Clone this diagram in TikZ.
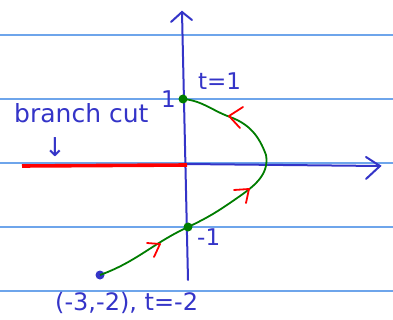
\documentclass[tikz,border=0pt]{standalone}
\usepackage{fontspec}
\setmainfont{DejaVu Sans}
\definecolor{penblue}{RGB}{52,52,200}
\definecolor{ruleblue}{RGB}{110,165,235}
\definecolor{pengreen}{RGB}{0,125,0}
\begin{document}
\begin{tikzpicture}[x=1pt,y=-1pt,
  rule/.style={ruleblue,line width=1.3},
  axis/.style={penblue,line width=2,line cap=round},
  lbl/.style={penblue,font=\fontsize{23}{25}\selectfont,inner sep=0},
  chev/.style={red,line width=1.8,line cap=round,line join=round},
  dot/.style={circle,fill,inner sep=0,minimum size=9}]
\useasboundingbox (0,0) rectangle (393,320);
\fill[white] (0,0) rectangle (393,320);
\foreach \y in {35,99,163,227,291} \draw[rule] (0,\y) -- (393,\y);
% axes
\coordinate (ytop) at (182,12);
\coordinate (ybot) at (188,280);
\coordinate (xl) at (186,164);
\coordinate (xr) at (380,166);
\draw[axis] (ybot) -- (ytop);
\draw[axis] (171,22) -- (ytop) -- (192,20);
\draw[axis] (xl) -- (xr);
\draw[axis] (366,157) -- (xr) -- (366,179);
% branch cut
\coordinate (bcl) at (22,166);
\coordinate (bcr) at (187,165);
\draw[red,line width=3.6] (bcl) -- (bcr);
% curve
\node[dot,pengreen] (p1) at (183,99) {};
\node[dot,pengreen] (pm) at (188,227) {};
\node[dot,penblue] (p0) at (100,275) {};
\draw[pengreen,line width=1.8] (p1.center) to[out=-5,in=160] (230,117) to[out=-20,in=110] (266,155) to[out=-80,in=35] (240,196) to[out=-145,in=25] (pm.center)
  to[out=-155,in=20] (p0.center);
% chevrons
\draw[chev] (243,107) -- (229,116) -- (240,128);
\draw[chev] (234,190) -- (249,189) -- (246,203);
\draw[chev] (147,243) -- (160,244) -- (154,257);
% labels
\node[lbl,anchor=east] (one) at (176,99) {1};
\node[lbl,anchor=west] (t1) at (198,81) {t=1};
\node[lbl,anchor=west] (mone) at (197,237) {-1};
\node[lbl,anchor=west,font=\fontsize{25}{27}\selectfont] (bc) at (14,113) {branch cut};
\node[lbl,font=\fontsize{26}{28}\selectfont] (arr) at (55,147) {↓};
\node[lbl,anchor=west,font=\fontsize{24}{26}\selectfont] (pt) at (55,303) {(-3,-2), t=-2};
\end{tikzpicture}
\end{document}
